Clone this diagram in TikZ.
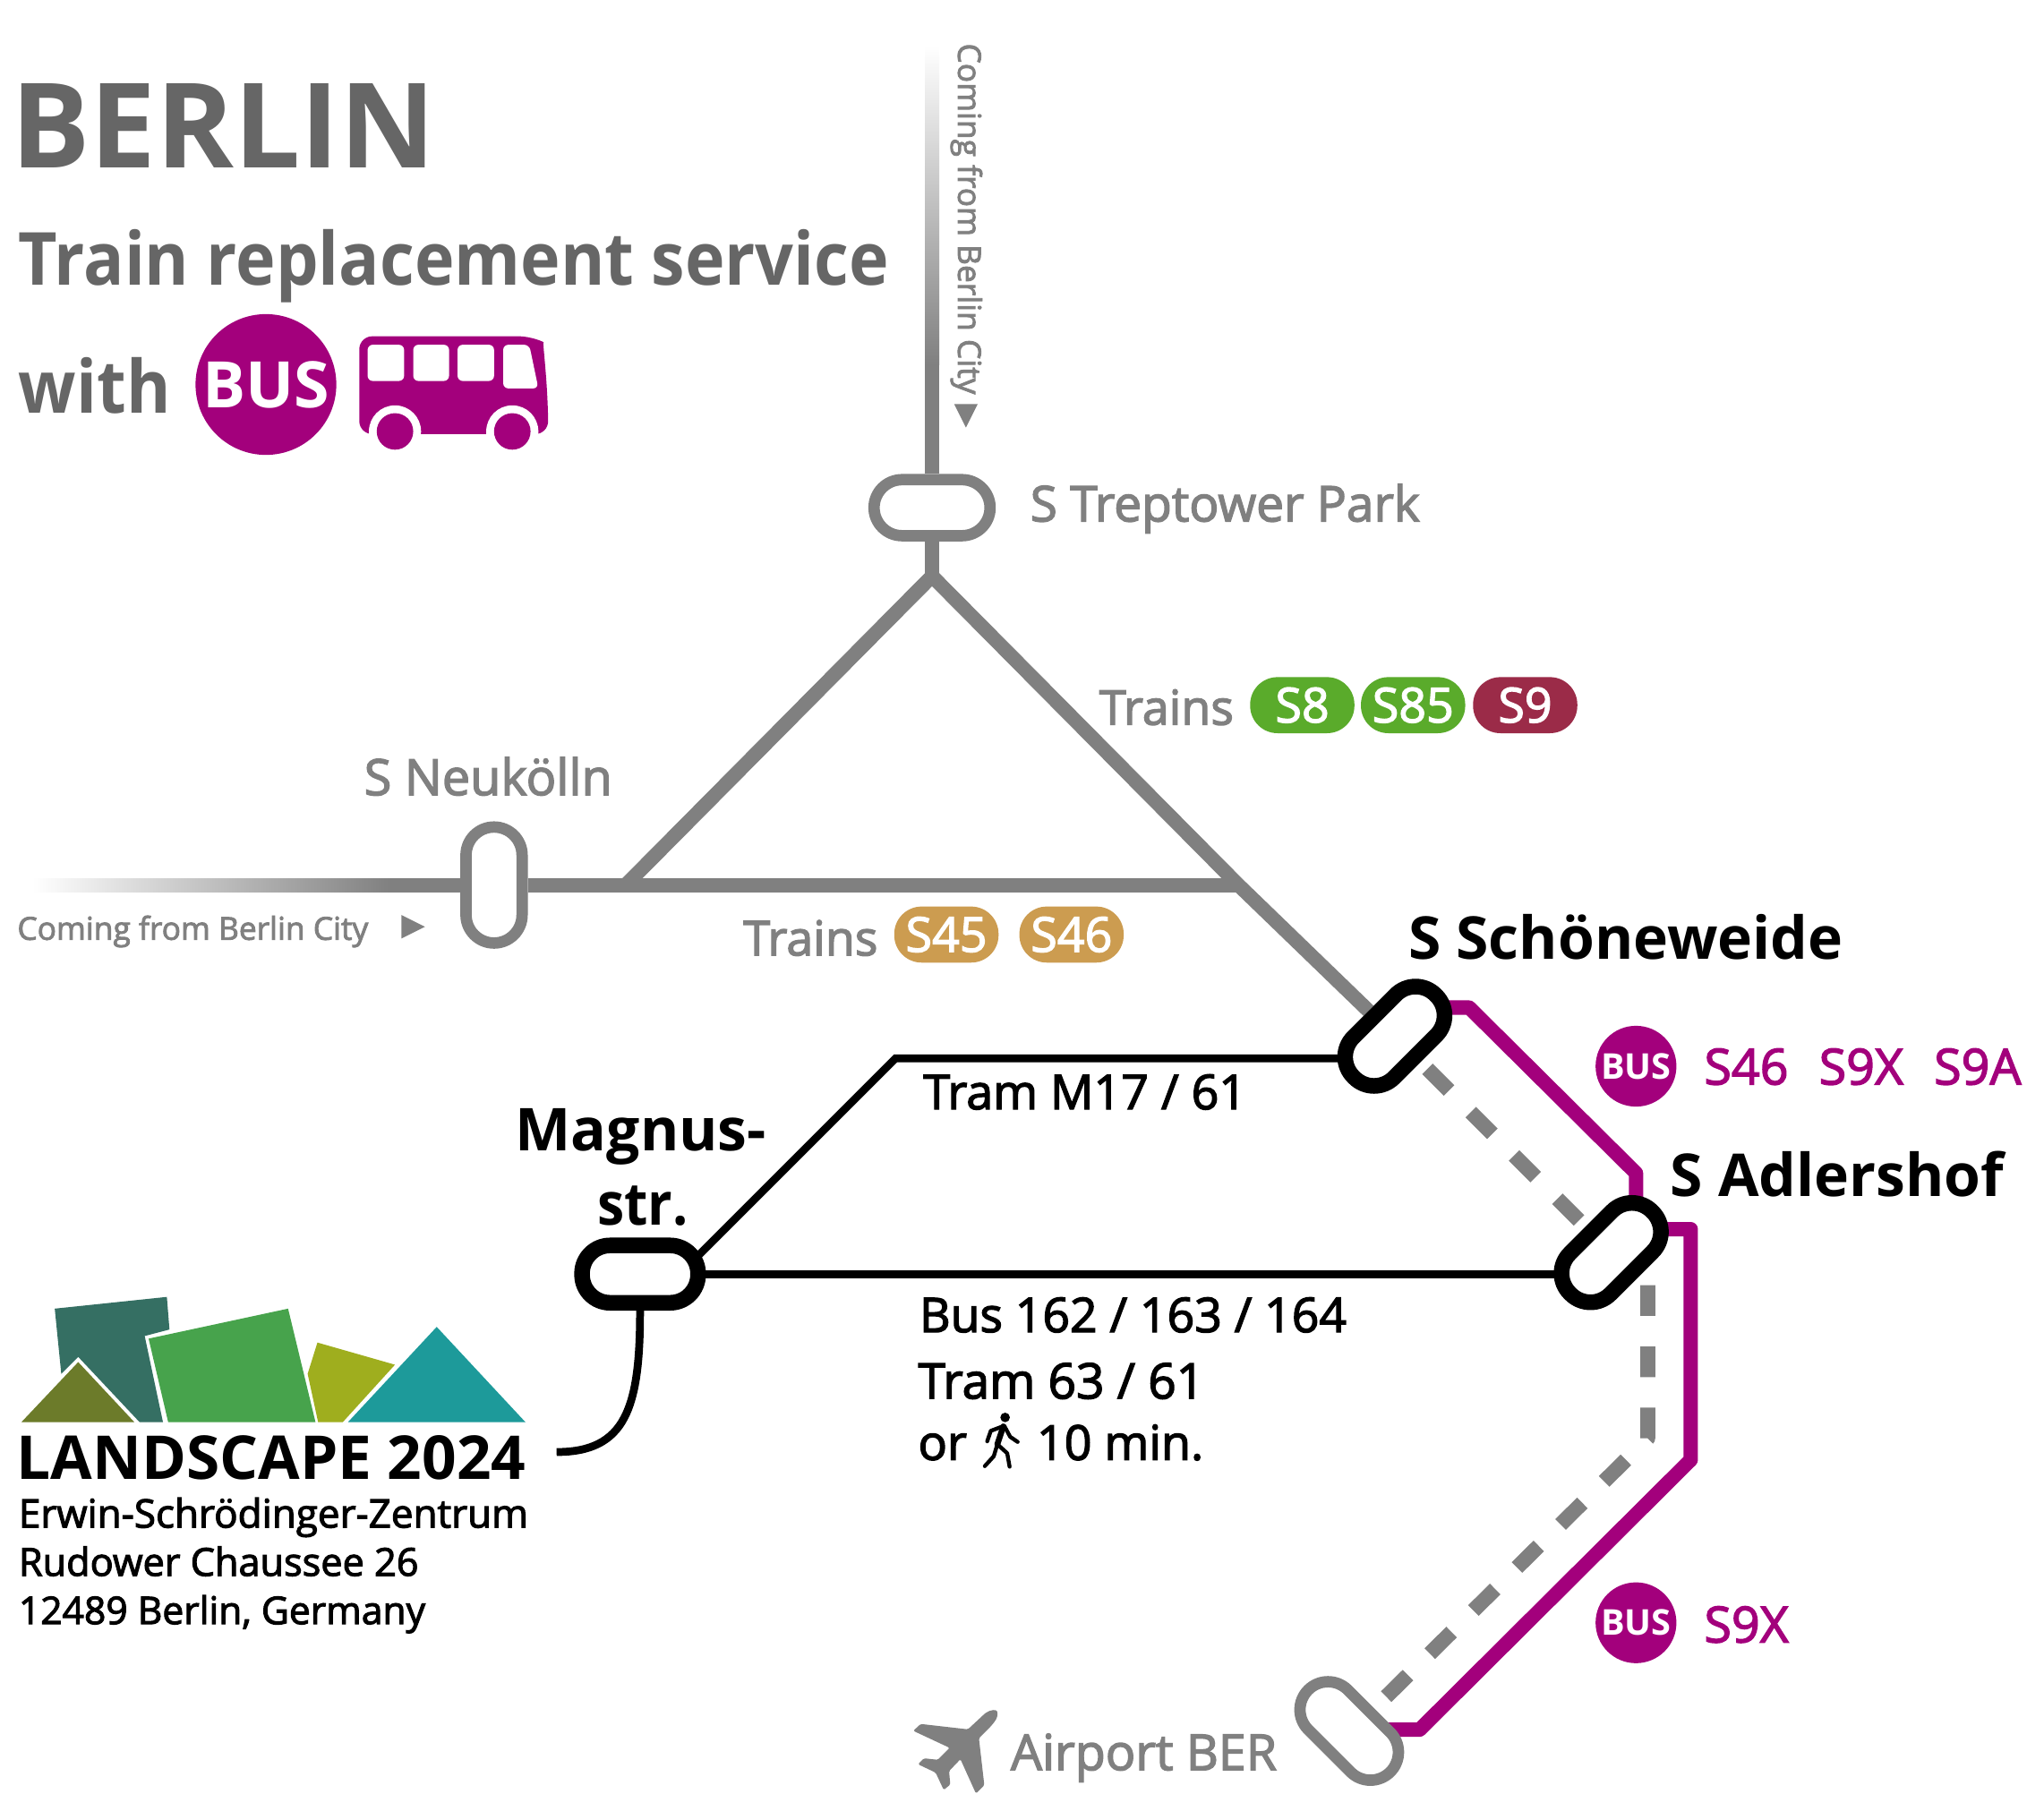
\documentclass[tikz,border=0pt]{standalone}
\usepackage{fontspec}
\usetikzlibrary{backgrounds}
\setmainfont{Open Sans}
\newfontfamily\midfont[FakeBold=2.5]{Open Sans}
\newfontfamily\headfont[BoldFeatures={FakeStretch=0.92}]{Open Sans}
\definecolor{busviolet}{HTML}{A3007C}
\definecolor{trackgray}{HTML}{808080}
\definecolor{titlegray}{HTML}{666666}
\definecolor{ringgreen}{HTML}{5AAB2B}
\definecolor{ringred}{HTML}{9B2B48}
\definecolor{ringtan}{HTML}{CC9C50}
\definecolor{logodark}{HTML}{356F63}
\definecolor{logogreen}{HTML}{47A34C}
\definecolor{logolime}{HTML}{9FAE1E}
\definecolor{logoteal}{HTML}{1D9A9A}
\definecolor{logoolive}{HTML}{6C7B2A}
\tikzset{
  track/.style={trackgray,line width=2.2mm},
  busline/.style={busviolet,line width=2.2mm,line join=round},
  tramline/.style={black,line width=1.2mm},
  walkway/.style={trackgray,line width=2.3mm,dash pattern=on 4.7mm off 4.7mm},
  station/.style={draw=black,fill=white,line width=2.4mm,rounded corners=4.3mm,minimum width=17.8mm,minimum height=8.8mm,inner sep=0pt},
  farstation/.style={station,draw=trackgray,line width=1.75mm,minimum height=8.6mm},
  pill/.style={fill=#1,text=white,rounded corners=4.2mm,minimum width=16mm,minimum height=8.6mm,inner sep=0pt,font=\midfont\fontsize{21}{21}\selectfont},
  busdot/.style={circle,fill=busviolet,text=white,minimum size=12.4mm,inner sep=0pt,font=\bfseries\fontsize{15.5}{15.5}\selectfont},
  lbl/.style={anchor=base west,inner sep=0pt},
  midlbl/.style={lbl,font=\midfont\fontsize{21}{21}\selectfont},
  smalllbl/.style={lbl,text=trackgray,font=\midfont\fontsize{13.8}{13.8}\selectfont},
  stopname/.style={lbl,font=\bfseries\fontsize{25.8}{25.8}\selectfont},
  limb/.style={line width=0.6mm,line cap=round,line join=round},
}
\begin{document}
\begin{tikzpicture}[x=0.2mm,y=-0.2mm]
  \useasboundingbox (0,0) rectangle (1568,1376.3);
  %
  % Stations
  \node[farstation] (treptow) at (715,389.5) {};
  \node[farstation,rotate=90] (neukoelln) at (379,679) {};
  \node[station,rotate=45] (schoene) at (1070,795) {};
  \node[station,rotate=45] (adlershof) at (1236,961) {};
  \node[station] (magnus) at (491,977.5) {};
  \node[farstation,rotate=-45] (airport) at (1035,1328) {};
  %
  % Bends
  \coordinate (apex) at (715,442);
  \coordinate (joinw) at (480,679);
  \coordinate (joine) at (950,679);
  \coordinate (topfade) at (715,280);
  \coordinate (westfade) at (300,679);
  \coordinate (hotel) at (427,1114);
  \coordinate (tramtop) at (687,812);
  \coordinate (magnusne) at (530,969);
  \coordinate (schoeneout) at (1100,773);
  \coordinate (adlerin) at (1255,945);
  \coordinate (adlerout) at (1262,943);
  \coordinate (airportin) at (1050,1327);
  %
  \begin{pgfonlayer}{background}
    % Trains
    \shade[top color=white,bottom color=trackgray] (709.5,35) rectangle (720.5,280);
    \shade[left color=white,right color=trackgray] (25,674) rectangle (300,684.5);
    \draw[track] (topfade) -- (treptow);
    \draw[track] (treptow) -- (apex);
    \draw[track] (westfade) -- (neukoelln);
    \draw[track,line join=round] (neukoelln) -- (joinw) -- (joine);
    \draw[track,line join=round] (joinw) -- (apex) -- (joine) -- (schoene);
    % Replacement bus
    \draw[busline] (schoeneout) -- (1127,773) -- (1255,900) -- (adlerin);
    \draw[busline] (adlerout) -- (1297,943) -- (1297,1120) -- (1089,1327) -- (airportin);
    \draw[walkway] (1095,820) -- (1215,940);
    \draw[walkway,line join=round] (1264,986) -- (1264,1103.5) -- (1058,1307);
    % Tram and bus
    \draw[tramline] (magnusne) -- (tramtop) -- (tramtop -| schoene);
    \draw[tramline] (magnus) -- (adlershof |- magnus);
    \draw[tramline] (magnus) .. controls (491,1080) and (480,1114) .. (hotel);
  \end{pgfonlayer}
  %
  % Head
  \node[lbl,text=titlegray,font=\bfseries\fontsize{51.5}{51.5}\selectfont] (city) at (8,129) {BERLIN};
  \node[lbl,text=titlegray,font=\headfont\bfseries\fontsize{32}{32}\selectfont] (head) at (14,219) {Train replacement service};
  \node[lbl,text=titlegray,font=\headfont\bfseries\fontsize{32}{32}\selectfont] (with) at (14,317) {with};
  \node[busdot,minimum size=21.6mm,font=\bfseries\fontsize{28}{28}\selectfont] (busbig) at (204,295) {BUS};
  %
  % Bus icon
  \fill[busviolet,rounded corners=2mm] (275.6,333) -- (275.6,258) -- (408,258) .. controls (416,262) and (420,290) .. (420.6,333) -- cycle;
  \foreach \x/\w in {282/28,317/27.5,351/28}
    \fill[white,rounded corners=0.8mm] (\x,264.5) rectangle (\x+\w,292.3);
  \fill[white,rounded corners=0.8mm] (386,264.5) -- (406,264.5) -- (413,298) -- (386,298) -- cycle;
  \foreach \x in {303,393} {
    \fill[white] (\x,331) circle [radius=20];
    \fill[busviolet] (\x,331) circle [radius=14];
  }
  %
  % Station names
  \node[midlbl,text=trackgray,font=\midfont\fontsize{21.5}{21.5}\selectfont] (treptowname) at (790,400) {S Treptower Park};
  \node[midlbl,text=trackgray,font=\midfont\fontsize{21.8}{21.8}\selectfont] (neukoellnname) at (279,610) {S Neukölln};
  \node[midlbl,text=trackgray,font=\midfont\fontsize{21.7}{21.7}\selectfont] (airportname) at (775,1358) {Airport BER};
  \node[stopname] (schoenename) at (1080,736) {S Schöneweide};
  \node[stopname] (adlershofname) at (1281,918) {S Adlershof};
  \node[stopname] (magnusone) at (395,883) {Magnus-};
  \node[lbl,font=\headfont\bfseries\fontsize{25.8}{25.8}\selectfont] (magnustwo) at (458,940) {str.};
  %
  % Plane
  \begin{scope}[shift={(693.7,1305)},x=0.0458mm,y=-0.0458mm]
    \fill[trackgray,rounded corners=0.2mm] (270,42) .. controls (290,28) and (310,28) .. (312,40) .. controls (312,65) and (290,85) .. (250,125)
      -- (268,282) -- (240,310) -- (188,195) -- (150,235) -- (154,280) -- (132,298) -- (105,240) -- (46,212) -- (66,192) -- (112,197)
      -- (152,157) -- (30,100) -- (55,77) -- (213,95) -- cycle;
  \end{scope}
  %
  % Coming from
  \node[smalllbl,rotate=-90] (fromnorth) at (735,33) {Coming from Berlin City};
  \fill[trackgray] (732,310) -- (750,310) -- (741,328) -- cycle;
  \node[smalllbl] (fromwest) at (13,721) {Coming from Berlin City};
  \fill[trackgray] (308,702) -- (326,711) -- (308,720) -- cycle;
  %
  % Trains
  \node[midlbl,text=trackgray] (trainsa) at (843,556) {Trains};
  \node[pill=ringgreen] (seight) at (999,541) {S8};
  \node[pill=ringgreen] (seightfive) at (1084,541) {S85};
  \node[pill=ringred] (snine) at (1170,541) {S9};
  \node[midlbl,text=trackgray] (trainsb) at (570,733) {Trains};
  \node[pill=ringtan] (sfourfive) at (726,717) {S45};
  \node[pill=ringtan] (sfoursix) at (822,717) {S46};
  %
  % Bus
  \node[busdot] (busa) at (1255,818) {BUS};
  \node[midlbl,text=busviolet,font=\midfont\fontsize{21.7}{21.7}\selectfont] (busatext) at (1307,832) {S46\hspace{4.7mm}S9X\hspace{4.7mm}S9A};
  \node[busdot] (busb) at (1255,1245) {BUS};
  \node[midlbl,text=busviolet,font=\midfont\fontsize{21.7}{21.7}\selectfont] (busbtext) at (1307,1260) {S9X};
  %
  % Tram
  \node[midlbl] (tramm) at (708,851) {Tram M17 / 61};
  \node[midlbl,font=\midfont\fontsize{20.9}{20.9}\selectfont] (busnums) at (705,1022) {Bus 162 / 163 / 164};
  \node[midlbl,font=\midfont\fontsize{21.5}{21.5}\selectfont] (tramn) at (704,1073) {Tram 63 / 61};
  \node[midlbl] (walkor) at (704,1120) {or};
  \node[midlbl] (walkmin) at (795,1120) {10 min.};
  %
  % Walker
  \begin{scope}[shift={(748.6,1078.3)},x=0.0458mm,y=-0.0458mm]
    \fill (98,40) circle [radius=16];
    \draw[limb] (38,120) -- (50,85) -- (95,68) -- (115,105) -- (140,122);
    \draw[limb,line width=0.9mm] (92,70) -- (72,130);
    \draw[limb] (30,203) -- (60,170) -- (72,130) -- (105,160) -- (113,205);
  \end{scope}
  %
  % Logo
  \fill[logodark] (42,1004) -- (128,995) -- (130,1020) -- (111,1025) -- (125,1091) -- (107,1091) -- (60,1041) -- (47,1054) -- cycle;
  \fill[logogreen] (114,1027) -- (221,1004) -- (242,1091) -- (129,1091) -- cycle;
  \fill[logolime] (243.5,1030) -- (303,1047) -- (263,1091) -- (244,1091) -- (236,1054) -- cycle;
  \fill[logoteal] (335,1018) -- (403,1091) -- (267,1091) -- cycle;
  \fill[logoolive] (60,1045) -- (103,1091) -- (16.5,1091) -- cycle;
  \node[lbl,font=\bfseries\fontsize{26.4}{26.4}\selectfont] (landscape) at (12.5,1135) {LANDSCAPE 2024};
  \node[lbl,font=\midfont\fontsize{17.2}{17.2}\selectfont] (addressa) at (14,1172) {Erwin-Schrödinger-Zentrum};
  \node[lbl,font=\midfont\fontsize{16.9}{16.9}\selectfont] (addressb) at (14,1209) {Rudower Chaussee 26};
  \node[lbl,font=\midfont\fontsize{16.65}{16.65}\selectfont] (addressc) at (14,1246) {12489 Berlin, Germany};
\end{tikzpicture}
\end{document}
